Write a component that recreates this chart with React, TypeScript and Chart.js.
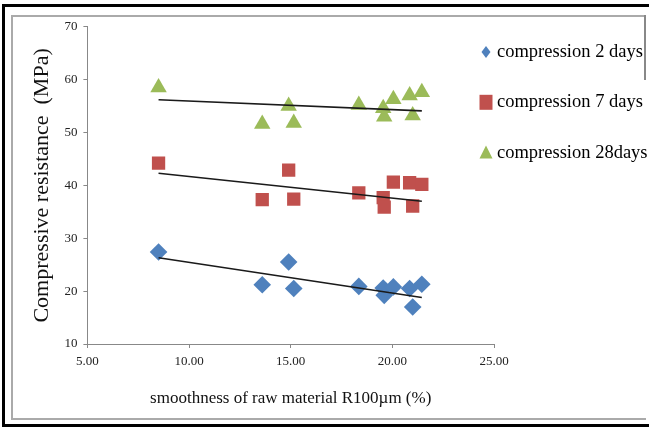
import React, { useEffect, useRef } from "react";
import { Chart, registerables } from "chart.js";

Chart.register(...registerables);

// Smoothness of raw material R100µm (%)
const xValues = [8.5, 13.6, 14.9, 15.15, 18.35, 19.55, 19.6, 20.05, 20.85, 21.0, 21.45];
// Compressive resistance (MPa)
const days2 = [27.4, 21.2, 25.5, 20.5, 20.9, 20.6, 19.2, 20.8, 20.5, 17.0, 21.3];
const days7 = [44.2, 37.3, 42.9, 37.4, 38.6, 37.7, 35.9, 40.6, 40.5, 36.1, 40.2];
const days28 = [58.5, 51.6, 55.0, 51.8, 55.2, 54.6, 53.0, 56.3, 57.0, 53.2, 57.6];

const seriesLabels = ["compression 2 days", "compression 7 days", "compression 28days"];
const seriesColors = ["#4F81BD", "#C0504D", "#9BBB59"];
const seriesStyles = ["rectRot", "rect", "triangle"];

// Linear trend lines (end points)
const trendX = [8.5, 21.45];
const trend2 = [26.3, 18.8];
const trend7 = [42.3, 37.0];
const trend28 = [56.2, 54.1];

const xTickLabels = ["5.00", "10.00", "15.00", "20.00", "25.00"];

const xTitle = "smoothness of raw material R100µm (%)";
const yTitle = "Compressive resistance  (MPa)";

const FONT = '"Liberation Serif", "Times New Roman", serif';

const toPoints = (xs: number[], ys: number[]) => xs.map((x, i) => ({ x, y: ys[i] }));

const sideLegend = {
  id: "sideLegend",
  afterDraw(chart: any, _args: any, opts: any) {
    const ctx = chart.ctx as CanvasRenderingContext2D;
    ctx.save();
    let i = 0;
    chart.data.datasets.forEach((ds: any) => {
      if (ds.type === "line") return;
      const cx = opts.x;
      const cy = opts.y + i * opts.spacing;
      ctx.fillStyle = ds.backgroundColor;
      ctx.beginPath();
      if (ds.pointStyle === "rectRot") {
        ctx.moveTo(cx, cy - 6);
        ctx.lineTo(cx + 4.5, cy);
        ctx.lineTo(cx, cy + 6);
        ctx.lineTo(cx - 4.5, cy);
        ctx.closePath();
      } else if (ds.pointStyle === "rect") {
        ctx.rect(cx - 6.5, cy - 7.5, 13, 15);
      } else {
        ctx.moveTo(cx, cy - 7);
        ctx.lineTo(cx + 6.5, cy + 6);
        ctx.lineTo(cx - 6.5, cy + 6);
        ctx.closePath();
      }
      ctx.fill();
      ctx.fillStyle = "#000";
      ctx.font = `18.5px ${FONT}`;
      ctx.textAlign = "left";
      ctx.textBaseline = "alphabetic";
      ctx.fillText(ds.label, opts.textX, cy + 5);
      i++;
    });
    ctx.restore();
  },
};

export default function App() {
  const ref = useRef<HTMLCanvasElement | null>(null);

  useEffect(() => {
    if (!ref.current) return;
    const seriesData = [days2, days7, days28];
    const trends = [trend2, trend7, trend28];
    const trendSets = trends.map((t) => ({
      type: "line" as const,
      label: "trend",
      data: toPoints(trendX, t),
      borderColor: "#1a1a1a",
      borderWidth: 1.6,
      pointRadius: 0,
      fill: false,
      tension: 0,
      order: 0,
    }));
    const radii = [8.8, 9.4, 9.5];
    const scatterSets = seriesData.map((d, i) => ({
      type: "scatter" as const,
      label: seriesLabels[i],
      data: toPoints(xValues, d),
      backgroundColor: seriesColors[i],
      borderColor: seriesColors[i],
      pointStyle: seriesStyles[i],
      pointRadius: radii[i],
      pointBorderWidth: 0,
      order: 1,
    }));

    const chart = new Chart(ref.current, {
      type: "scatter",
      data: { datasets: [...trendSets, ...scatterSets] as any },
      options: {
        animation: false,
        responsive: false,
        devicePixelRatio: 1,
        layout: { padding: { left: 10, right: 155, top: 0, bottom: 0 } },
        plugins: {
          legend: { display: false },
          tooltip: { enabled: false },
          sideLegend: { x: 474, y: 39, spacing: 50.3, textX: 485 },
        } as any,
        scales: {
          x: {
            type: "linear",
            min: 5,
            max: 25,
            ticks: {
              stepSize: 5,
              padding: 6,
              color: "#222",
              font: { family: FONT, size: 13 },
              callback: (_v: any, i: number) => xTickLabels[i],
            },
            grid: { display: true, drawOnChartArea: false, drawTicks: true, tickLength: 4, color: "#888" },
            border: { display: true, color: "#888", width: 1 },
            title: {
              display: true,
              text: xTitle,
              color: "#111",
              font: { family: FONT, size: 17 },
              padding: { top: 13, bottom: 4 },
            },
          },
          y: {
            type: "linear",
            min: 10,
            max: 70,
            ticks: {
              stepSize: 10,
              padding: 6,
              color: "#222",
              font: { family: FONT, size: 13 },
            },
            grid: { display: true, drawOnChartArea: false, drawTicks: true, tickLength: 4, color: "#888" },
            border: { display: true, color: "#888", width: 1 },
            title: {
              display: true,
              text: yTitle,
              color: "#111",
              font: { family: FONT, size: 22 },
              padding: { top: 7, bottom: 3 },
            },
          },
        },
      },
      plugins: [sideLegend],
    });
    return () => chart.destroy();
  }, []);

  return (
    <div style={{ position: "absolute", left: 0, top: 0, width: 649, height: 430, overflow: "hidden", background: "#fff" }}>
      <div
        style={{
          position: "absolute",
          left: 2,
          top: 4,
          width: 700,
          height: 423,
          boxSizing: "border-box",
          border: "3px solid #000",
        }}
      />
      <div
        style={{
          position: "absolute",
          left: 11,
          top: 15,
          width: 635,
          height: 405,
          boxSizing: "border-box",
          borderTop: "2px solid #aaa",
          borderLeft: "2px solid #aaa",
          borderBottom: "2px solid #aaa",
        }}
      />
      <div style={{ position: "absolute", left: 644, top: 15, width: 2, height: 65, background: "#888" }} />
      <canvas
        ref={ref}
        width={637}
        height={400}
        style={{ position: "absolute", left: 12, top: 13, width: 637, height: 400 }}
      />
    </div>
  );
}
